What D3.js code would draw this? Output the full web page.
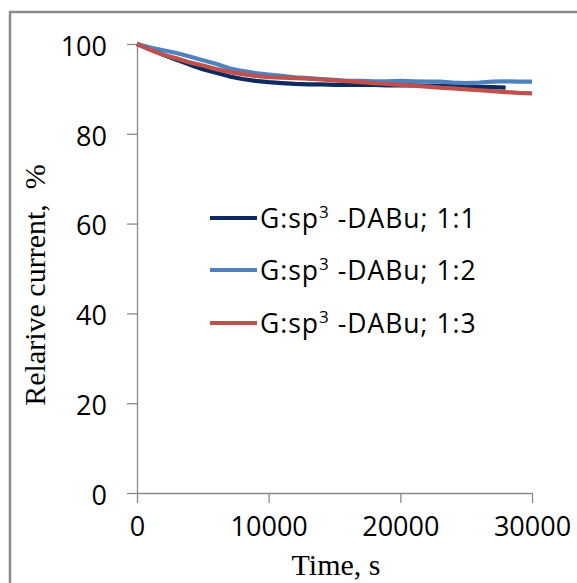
<!DOCTYPE html>
<html>
<head>
<meta charset="utf-8">
<script src="https://cdn.jsdelivr.net/npm/d3@7"></script>
<style>
  body { margin: 0; background: #fff; }
  svg { display: block; }
</style>
</head>
<body>
<div id="chart"></div>
<script>
// time in seconds
var time = [0, 1000, 2000, 3000, 4000, 5000, 6000, 7000, 8000, 9000, 10000,
  11000, 12000, 13000, 14000, 15000, 16000, 17000, 18000, 19000, 20000,
  21000, 22000, 23000, 24000, 25000, 26000, 27000, 28000, 29000, 30000];

// relative current, %
var ratio11 = [100, 98.8, 97.6, 96.5, 95.4, 94.4, 93.6, 92.8, 92.2, 91.8, 91.5,
  91.3, 91.1, 91.0, 91.0, 90.9, 90.9, 90.9, 90.9, 90.8, 90.8,
  90.8, 90.7, 90.7, 90.6, 90.5, 90.4, 90.4, 90.3];
var ratio12 = [100, 99.2, 98.6, 98.0, 97.2, 96.4, 95.6, 94.6, 94.0, 93.5, 93.2,
  92.9, 92.6, 92.4, 92.2, 92.0, 91.8, 91.8, 91.7, 91.7, 91.8,
  91.7, 91.6, 91.6, 91.4, 91.3, 91.4, 91.6, 91.7, 91.6, 91.6];
var ratio13 = [100, 98.7, 97.6, 96.8, 95.9, 95.2, 94.4, 93.8, 93.3, 92.9, 92.6,
  92.5, 92.4, 92.3, 92.1, 91.9, 91.7, 91.5, 91.3, 91.1, 90.9,
  90.7, 90.5, 90.3, 90.1, 89.9, 89.7, 89.5, 89.3, 89.1, 89.0];

var seriesNames = ["1:1", "1:2", "1:3"];
var seriesData = [ratio11, ratio12, ratio13];
var xTicks = [0, 10000, 20000, 30000];
var yTicks = [0, 20, 40, 60, 80, 100];

var color = ["#0f2a5e", "#4f81bd", "#c0504d"];

var width = 577, height = 583;
var svg = d3.select("#chart").append("svg")
  .attr("width", width).attr("height", height);

// outer frame
svg.append("rect").attr("x", 10).attr("y", 12)
  .attr("width", width + 10).attr("height", height + 10)
  .style("fill", "none").style("stroke", "#8c8c8c").style("stroke-width", 2.5);

var x = d3.scaleLinear().domain([0, 30000]).range([137, 532]);
var y = d3.scaleLinear().domain([0, 100]).range([493, 44]);

var xAxis = d3.axisBottom(x).tickValues(xTicks).tickFormat(d3.format("d"))
  .tickSize(10).tickSizeOuter(0).tickPadding(14);
var yAxis = d3.axisLeft(y).tickValues(yTicks).tickFormat(d3.format("d"))
  .tickSize(10).tickSizeOuter(0).tickPadding(20);

var gx = svg.append("g").attr("class", "x axis")
  .attr("transform", "translate(0," + y(0) + ")").call(xAxis);
var gy = svg.append("g").attr("class", "y axis")
  .attr("transform", "translate(" + x(0) + ",0)").call(yAxis);

[gx, gy].forEach(function (g) {
  g.selectAll("path, line").style("stroke", "#8a8a8a").style("stroke-width", 1.3);
  g.selectAll("text").style("font-family", "'Open Sans', sans-serif")
    .style("font-size", "27px").style("fill", "#000");
});
gx.selectAll("text").attr("dy", "0.71em");
gy.selectAll("text").attr("dy", "0.42em");

// lines
var line = d3.line()
  .x(function (d) { return x(d.t); })
  .y(function (d) { return y(d.v); });

seriesData.forEach(function (vals, i) {
  var pts = vals.map(function (v, j) { return { t: time[j], v: v }; });
  svg.append("path").datum(pts)
    .attr("d", line)
    .style("fill", "none")
    .style("stroke", color[i])
    .style("stroke-width", 4.2)
    .style("stroke-linejoin", "round");
});

// legend
var legendY = [218, 270, 323];
seriesNames.forEach(function (name, i) {
  svg.append("line").attr("x1", 210).attr("x2", 257)
    .attr("y1", legendY[i]).attr("y2", legendY[i])
    .style("stroke", color[i]).style("stroke-width", 4.2);
  var t = svg.append("text").attr("x", 260).attr("y", legendY[i] + 10)
    .style("font-family", "'Open Sans', sans-serif").style("font-size", "26.5px")
    .style("letter-spacing", "1px")
    .style("fill", "#000");
  t.append("tspan").text("G:sp");
  t.append("tspan").attr("dy", -10).style("font-size", "17px").text("3");
  t.append("tspan").attr("dy", 10).text(" -DABu; " + name);
});

// axis titles
svg.append("text").attr("x", 336).attr("y", 575)
  .style("font-family", "'Liberation Serif', 'Times New Roman', serif")
  .style("font-size", "30px").style("text-anchor", "middle")
  .text("Time, s");

svg.append("text")
  .attr("transform", "translate(45,285) rotate(-90)")
  .attr("xml:space", "preserve")
  .style("font-family", "'Liberation Serif', 'Times New Roman', serif")
  .style("font-size", "30px").style("text-anchor", "middle")
  .style("white-space", "pre")
  .text("Relarive current,  %");
</script>
</body>
</html>
